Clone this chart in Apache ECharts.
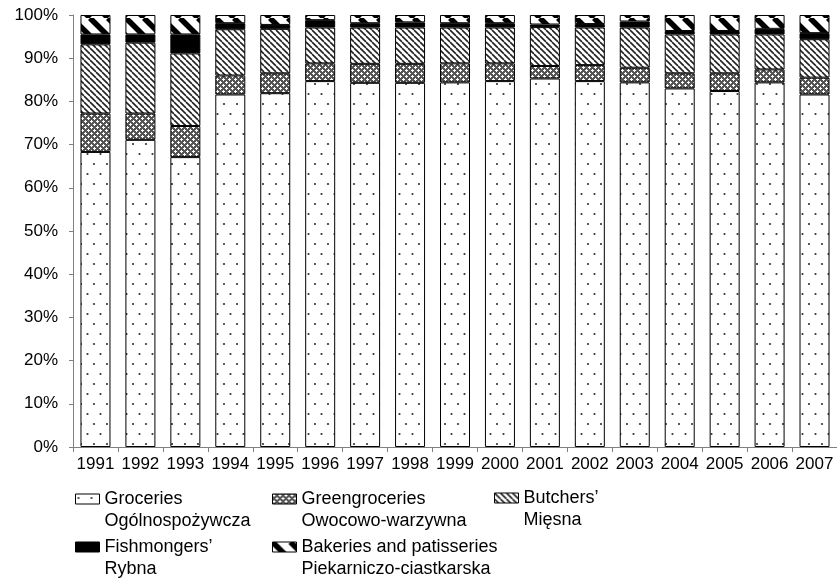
<!DOCTYPE html>
<html><head><meta charset="utf-8">
<script src="https://cdn.jsdelivr.net/npm/echarts@6/dist/echarts.min.js"></script>
<style>html,body{margin:0;padding:0;background:#fff}#c{width:837px;height:581px}</style>
</head><body><div id="c"></div>
<script>
const years = ['1991','1992','1993','1994','1995','1996','1997','1998','1999','2000','2001','2002','2003','2004','2005','2006','2007'];
const groceries     = [68.3,71.1,67.1,81.6,81.9,84.7,84.3,84.3,84.4,84.7,85.3,84.7,84.4,83.0,82.4,84.4,81.6];
const greengrocers  = [8.9,6.1,7.2,4.4,4.6,4.1,4.4,4.4,4.4,4.1,2.9,3.7,3.4,3.5,4.1,3.0,3.9];
const butchers      = [16.0,16.4,16.8,10.7,10.3,8.3,8.4,8.4,8.3,8.3,9.0,8.7,9.3,9.0,9.0,8.1,8.9];
const fishmongers   = [2.3,1.9,4.4,1.4,0.9,1.7,1.0,1.2,1.0,1.0,0.6,0.8,1.4,0.8,0.8,1.3,1.4];
const bakeries      = [4.5,4.5,4.5,1.9,2.3,1.2,1.9,1.7,1.9,1.9,2.2,2.1,1.5,3.7,3.7,3.2,4.2];
const yTicks = ['0%','10%','20%','30%','40%','50%','60%','70%','80%','90%','100%'];
const names = [
  ['Groceries','Ogólnospożywcza'],
  ['Greengroceries','Owocowo-warzywna'],
  ['Butchers’','Mięsna'],
  ['Fishmongers’','Rybna'],
  ['Bakeries and patisseries','Piekarniczo-ciastkarska']
];

function tile(w,h,draw){const c=document.createElement('canvas');c.width=w;c.height=h;const x=c.getContext('2d');draw(x,w,h);return {image:c,repeat:'repeat'};}
const pDots = tile(13,20,(x,w,h)=>{x.fillStyle='#fff';x.fillRect(0,0,w,h);x.fillStyle='#333';
  x.beginPath();x.arc(3,4,1.1,0,Math.PI*2);x.fill();x.beginPath();x.arc(9.5,14,1.1,0,Math.PI*2);x.fill();});
const pCross = tile(6,6,(x,w,h)=>{x.fillStyle='#555';x.fillRect(0,0,w,h);x.fillStyle='#fff';
  x.fillRect(0,1,3,1);x.fillRect(1,0,1,3);x.fillRect(3,4,3,1);x.fillRect(4,3,1,3);});
const pDiag = tile(6,6,(x,w,h)=>{x.fillStyle='#fff';x.fillRect(0,0,w,h);x.strokeStyle='#222';x.lineWidth=1.6;
  for(let k=-1;k<=1;k++){x.beginPath();x.moveTo(k*w,0);x.lineTo(k*w+w,h);x.stroke();}});
const pBig = tile(18,18,(x,w,h)=>{x.fillStyle='#fff';x.fillRect(0,0,w,h);x.strokeStyle='#000';x.lineWidth=5.5;
  for(let k=-1;k<=1;k++){x.beginPath();x.moveTo(k*w,0);x.lineTo(k*w+w,h);x.stroke();}});
const fills = [pDots,pCross,pDiag,'#000',pBig];
const datas = [groceries,greengrocers,butchers,fishmongers,bakeries];

const font = 'Liberation Sans, Arial, sans-serif';
const series = datas.map((d,i)=>({
  name:names[i][0], type:'bar', stack:'s', data:d, barWidth:30,
  itemStyle:{color:fills[i], borderColor:'#000', borderWidth:1},
  emphasis:{disabled:true}
}));
// icon: rect at top of a taller box so it aligns with the first text line
const iconPath = 'path://M0,0H24V10H0Z M0,32L0.01,32';
const legendPos = [[75,488],[272,488],[494,487],[75,536],[272,536]];
const legends = names.map((n,i)=>({
  data:[n[0]], left:legendPos[i][0], top:legendPos[i][1], orient:'horizontal', padding:0,
  icon:iconPath, itemWidth:24, itemHeight:32, itemGap:0, selectedMode:false,
  formatter: ()=> n[0]+'\n'+n[1],
  textStyle:{fontFamily:font, fontSize:18, color:'#000', lineHeight:22},
  itemStyle:{borderColor:'#000', borderWidth:1}
}));

const chart = echarts.init(document.getElementById('c'),null,{renderer:'canvas'});
chart.setOption({
  animation:false,
  backgroundColor:'#fff',
  grid:{left:73, right:0, top:15, bottom:134},
  legend:legends,
  xAxis:{type:'category', data:years,
    axisLine:{lineStyle:{color:'#808080',width:1}},
    axisTick:{show:true, alignWithLabel:false, length:5, lineStyle:{color:'#808080'}},
    axisLabel:{fontFamily:font, fontSize:17, color:'#000', margin:9, interval:0}},
  yAxis:{type:'value', min:0, max:100, interval:10,
    axisLine:{show:true, lineStyle:{color:'#808080',width:1}},
    axisTick:{show:true, length:4, lineStyle:{color:'#808080'}},
    splitLine:{show:false},
    axisLabel:{fontFamily:font, fontSize:17, color:'#000', margin:15,
      formatter:(v)=> yTicks[Math.round(v/10)]}},
  series:series
});
</script></body></html>
